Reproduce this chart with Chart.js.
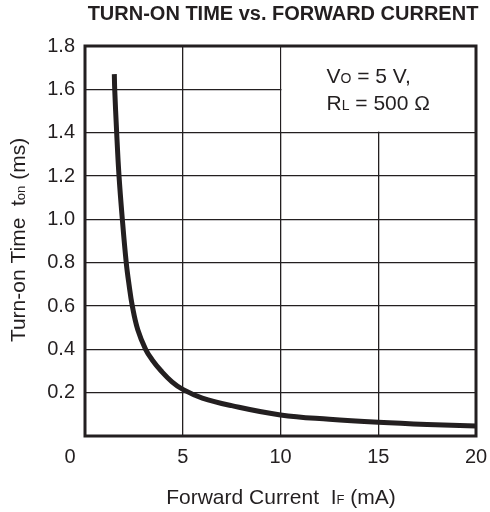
<!DOCTYPE html>
<html>
<head>
<meta charset="utf-8">
<script src="https://cdn.jsdelivr.net/npm/chart.js@4"></script>
<style>
  html, body { margin: 0; padding: 0; background: #fff; }
  #wrap { width: 490px; height: 512px; }
</style>
</head>
<body>
<div id="wrap"><canvas id="chart" width="490" height="512"></canvas></div>
<script>
// Forward current (mA) and turn-on time (ms)
const currentMA = [1.5, 1.52, 1.62, 1.74, 1.91, 2.11, 2.25, 2.42, 2.7, 3.1, 3.45, 3.9, 4.45, 5.0, 6.0, 7.5, 10, 12.5, 15, 17.5, 20];
const turnOnMs = [1.67, 1.6, 1.4, 1.2, 1.0, 0.8, 0.7, 0.6, 0.49, 0.4, 0.35, 0.3, 0.25, 0.215, 0.175, 0.14, 0.097, 0.077, 0.063, 0.053, 0.046];

const xTicks = [0, 5, 10, 15, 20];
const yTicks = [0, 0.2, 0.4, 0.6, 0.8, 1.0, 1.2, 1.4, 1.6, 1.8];

const ink = '#231f20';
const font = '"Liberation Sans", Arial, sans-serif';

// Helper: draw text with a smaller "subscript" part, like t_on or I_F
function drawMixed(ctx, parts, x, y, align) {
    let total = 0;
    parts.forEach(p => { ctx.font = p.font; total += ctx.measureText(p.text).width; });
    let cx = align === 'center' ? x - total / 2 : x;
    ctx.textAlign = 'left';
    ctx.textBaseline = 'alphabetic';
    parts.forEach(p => {
        ctx.font = p.font;
        ctx.fillText(p.text, cx, y);
        cx += ctx.measureText(p.text).width;
    });
}

const decorPlugin = {
    id: 'decor',
    beforeDatasetsDraw(chart) {
        // blank the legend box in the upper right corner
        const { ctx, chartArea, scales } = chart;
        const x10 = scales.x.getPixelForValue(10);
        const y14 = scales.y.getPixelForValue(1.4);
        ctx.save();
        ctx.fillStyle = '#fff';
        ctx.fillRect(x10 + 1, chartArea.top, chartArea.right - x10 - 1, y14 - chartArea.top - 1);
        ctx.fillStyle = ink;
        drawMixed(ctx, [
            { text: 'V', font: '21px ' + font },
            { text: 'O', font: '14px ' + font },
            { text: ' = 5 V,', font: '21px ' + font }
        ], x10 + 46, chartArea.top + 37, 'left');
        drawMixed(ctx, [
            { text: 'R', font: '21px ' + font },
            { text: 'L', font: '14px ' + font },
            { text: ' = 500 Ω', font: '21px ' + font }
        ], x10 + 46, chartArea.top + 64, 'left');
        ctx.restore();
    },
    afterDraw(chart) {
        const { ctx, chartArea } = chart;
        ctx.save();
        // frame
        ctx.strokeStyle = ink;
        ctx.lineWidth = 3;
        ctx.strokeRect(chartArea.left, chartArea.top, chartArea.right - chartArea.left, chartArea.bottom - chartArea.top);

        ctx.fillStyle = ink;
        // title
        ctx.font = 'bold 20px ' + font;
        ctx.textAlign = 'center';
        ctx.textBaseline = 'alphabetic';
        ctx.fillText('TURN-ON TIME vs. FORWARD CURRENT', 283, 20);

        // shared origin label
        ctx.font = '20px ' + font;
        ctx.fillText('0', chartArea.left - 15, chartArea.bottom + 27);

        // x axis title
        drawMixed(ctx, [
            { text: 'Forward Current  I', font: '21px ' + font },
            { text: 'F', font: '13px ' + font },
            { text: ' (mA)', font: '21px ' + font }
        ], 281, 504, 'center');

        // y axis title, rotated
        ctx.translate(25, 240);
        ctx.rotate(-Math.PI / 2);
        drawMixed(ctx, [
            { text: 'Turn-on Time  t', font: '21px ' + font },
            { text: 'on', font: '13px ' + font },
            { text: ' (ms)', font: '21px ' + font }
        ], 0, 0, 'center');
        ctx.restore();
    }
};

new Chart(document.getElementById('chart'), {
    type: 'line',
    data: {
        datasets: [{
            data: currentMA.map((x, i) => ({ x: x, y: turnOnMs[i] })),
            borderColor: ink,
            borderWidth: 5,
            pointRadius: 0,
            tension: 0.4,
            fill: false
        }]
    },
    options: {
        responsive: false,
        animation: false,
        layout: { padding: { left: 0, top: 46, right: 14, bottom: 0 } },
        plugins: {
            legend: { display: false },
            tooltip: { enabled: false }
        },
        scales: {
            x: {
                type: 'linear',
                min: 0,
                max: 20,
                afterFit(scale) {
                    scale.height = 76;
                    scale.paddingLeft = 0;
                    scale.paddingRight = 0;
                },
                afterBuildTicks(scale) { scale.ticks = xTicks.map(v => ({ value: v })); },
                grid: { color: ink, lineWidth: 1.3, drawTicks: false },
                border: { display: false },
                ticks: {
                    color: ink,
                    padding: 9,
                    maxRotation: 0,
                    font: { family: font, size: 20 },
                    callback: v => (v === 0 ? '' : String(v))
                }
            },
            y: {
                min: 0,
                max: 1.8,
                afterFit(scale) {
                    scale.width = 85;
                    scale.paddingTop = 0;
                    scale.paddingBottom = 0;
                },
                afterBuildTicks(scale) { scale.ticks = yTicks.map(v => ({ value: v })); },
                grid: {
                    color: ink,
                    lineWidth: 1.3,
                    drawTicks: false
                },
                border: { display: false },
                ticks: {
                    color: ink,
                    padding: 10,
                    font: { family: font, size: 20 },
                    callback: v => (v === 0 ? '' : v.toFixed(1))
                }
            }
        }
    },
    plugins: [decorPlugin]
});
</script>
</body>
</html>
